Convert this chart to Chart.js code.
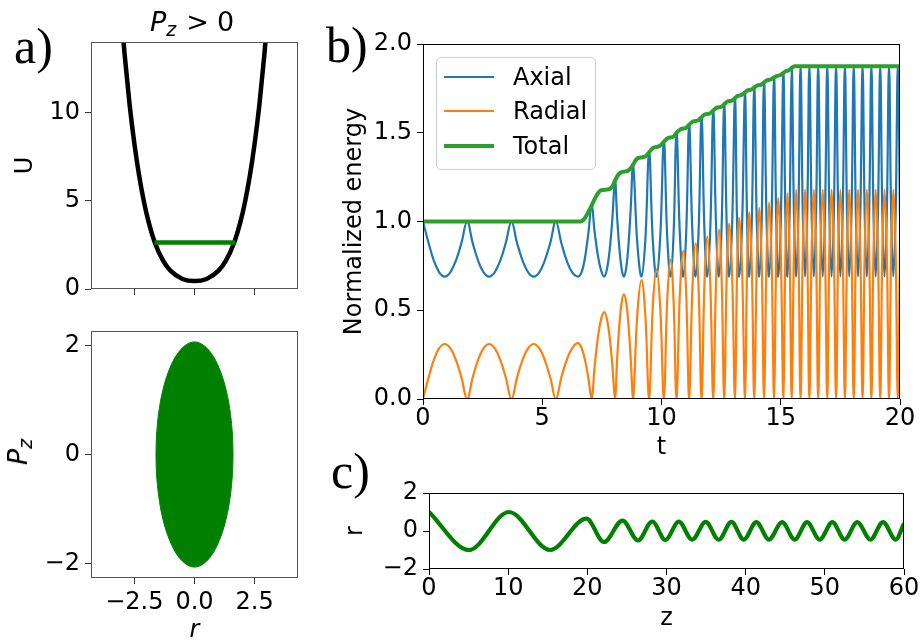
<!DOCTYPE html>
<html lang="en">
<head>
<meta charset="UTF-8">
<title>axial / radial energy</title>
<script src="https://cdn.jsdelivr.net/npm/chart.js@4.4.1/dist/chart.umd.min.js"></script>
<style>
  body { margin: 0; background: #fff; }
  #fig { position: relative; width: 924px; height: 643px; overflow: hidden; font-family: 'DejaVu Sans', sans-serif; color: #000; }
  #fig canvas { position: absolute; left: 0; top: 0; }
  .panel { position: absolute; font-family: 'Liberation Serif', serif; font-size: 50px; line-height: 50px; }
  .math { position: absolute; font-size: 27px; line-height: 27px; white-space: nowrap; }
  .math .sub { font-size: 19px; font-style: italic; position: relative; top: 5px; }
  .legend { position: absolute; left: 436px; top: 57px; width: 158px; height: 111px; border: 1px solid #ccc; border-radius: 5px; background: rgba(255,255,255,0.8); }
  .legend .row { position: absolute; left: 7px; width: 150px; height: 24px; font-size: 24px; line-height: 24px; }
  .legend .sw { position: absolute; left: 0; width: 50px; }
  .legend .tx { position: absolute; left: 69px; top: 0; }
</style>
</head>
<body>
<div id="fig">
  <canvas id="aTop" width="924" height="643"></canvas>
  <canvas id="aBot" width="924" height="643"></canvas>
  <canvas id="energy" width="924" height="643"></canvas>
  <canvas id="orbit" width="924" height="643"></canvas>

  <div class="panel" style="left:14px; top:21px">a)</div>
  <div class="panel" style="left:326px; top:20px">b)</div>
  <div class="panel" style="left:331px; top:446px">c)</div>

  <div class="math" style="left:150px; top:8px"><i>P</i><span class="sub">z</span><span style="margin-left:10px">&gt;</span><span style="margin-left:8px">0</span></div>
  <div class="math" style="left:19px; top:452px; transform: translate(-50%,-50%) rotate(-90deg)"><i>P</i><span class="sub">z</span></div>

  <div class="legend">
    <div class="row" style="top:7px"><span class="sw" style="top:11px; height:2px; background:#1f77b4"></span><span class="tx">Axial</span></div>
    <div class="row" style="top:41px"><span class="sw" style="top:11px; height:2px; background:#ff7f0e"></span><span class="tx">Radial</span></div>
    <div class="row" style="top:76px"><span class="sw" style="top:10px; height:4px; background:#2ca02c"></span><span class="tx">Total</span></div>
  </div>
</div>
<script>
  // a) top: potential U(r) and the energy level
  const uR = [-3.05, -2.9, -2.7, -2.5, -2.3, -2.1, -1.9, -1.65, -1.3, -1.0, -0.5, 0,
              0.5, 1.0, 1.3, 1.65, 1.9, 2.1, 2.3, 2.5, 2.7, 2.9, 3.05];
  const uV = [15.65, 13.25, 10.5, 8.26, 6.42, 4.94, 3.76, 2.64, 1.59, 1.04, 0.57, 0.45,
              0.57, 1.04, 1.59, 2.64, 3.76, 4.94, 6.42, 8.26, 10.5, 13.25, 15.65];
  const levelR = [-1.66, 1.7];
  const levelU = [2.64, 2.64];

  // a) bottom: allowed region in (r, Pz)
  const ellR = [-1.6, -1.59, -1.55, -1.45, -1.3, -1.1, -0.8, -0.4, 0, 0.4, 0.8, 1.1, 1.3, 1.45, 1.55, 1.59, 1.6];
  const ellUp = [0, 0.23, 0.51, 0.88, 1.21, 1.5, 1.79, 2.0, 2.07, 2.0, 1.79, 1.5, 1.21, 0.88, 0.51, 0.23, 0];
  const ellDown = [0, -0.23, -0.51, -0.88, -1.21, -1.5, -1.79, -2.0, -2.07, -2.0, -1.79, -1.5, -1.21, -0.88, -0.51, -0.23, 0];

  // b) normalized energies vs t
  const tVals = [
    0, 0.23, 0.455, 0.68, 0.91, 1.145, 1.38, 1.615, 1.85,
    2.08, 2.31, 2.54, 2.77, 3.005, 3.24, 3.475, 3.71,
    3.94, 4.175, 4.41, 4.64, 4.875, 5.105, 5.34, 5.57,
    5.8, 6.035, 6.27, 6.5, 6.64, 6.785, 6.93, 7.07,
    7.2, 7.335, 7.47, 7.6, 7.71, 7.825, 7.94, 8.05,
    8.14, 8.235, 8.33, 8.42, 8.52, 8.615, 8.71, 8.81,
    8.985, 9.16, 9.32, 9.48,
    9.635, 9.79, 9.945, 10.1,
    10.24, 10.38, 10.505, 10.63,
    10.77, 10.91, 11.035, 11.16,
    11.295, 11.43, 11.555, 11.68,
    11.8, 11.92, 12.045, 12.17,
    12.29, 12.41, 12.52, 12.63,
    12.735, 12.84, 12.96, 13.08,
    13.17, 13.26, 13.38, 13.5,
    13.59, 13.68, 13.785, 13.89,
    13.995, 14.1, 14.2, 14.3,
    14.405, 14.51, 14.615, 14.72,
    14.81, 14.9, 15.005, 15.11,
    15.195, 15.28, 15.37, 15.46,
    15.555, 15.65, 15.74, 15.83,
    15.925, 16.02, 16.11, 16.2,
    16.295, 16.39, 16.48, 16.57,
    16.665, 16.76, 16.855, 16.95,
    17.04, 17.13, 17.225, 17.32,
    17.41, 17.5, 17.595, 17.69,
    17.78, 17.87, 17.965, 18.06,
    18.15, 18.24, 18.335, 18.43,
    18.52, 18.61, 18.705, 18.8,
    18.89, 18.98, 19.075, 19.17,
    19.26, 19.35, 19.445, 19.54,
    19.63, 19.72, 19.815, 19.91,
    20.0
  ];
  const axial = [
    1.0, 0.881, 0.78, 0.714, 0.69, 0.714, 0.78, 0.881, 1.0,
    0.881, 0.78, 0.714, 0.69, 0.714, 0.78, 0.881, 1.0,
    0.881, 0.78, 0.714, 0.69, 0.714, 0.78, 0.881, 1.0,
    0.879, 0.776, 0.71, 0.69, 0.71, 0.791, 0.929, 1.09,
    0.937, 0.807, 0.723, 0.69, 0.73, 0.837, 1.017, 1.23,
    1.024, 0.846, 0.732, 0.69, 0.738, 0.869, 1.074, 1.32,
    0.879, 0.69, 0.891, 1.39,
    0.895, 0.69, 0.908, 1.45,
    0.913, 0.69, 0.923, 1.5,
    0.927, 0.69, 0.937, 1.545,
    0.94, 0.69, 0.947, 1.587,
    0.953, 0.69, 0.959, 1.625,
    0.964, 0.69, 0.97, 1.66,
    0.974, 0.69, 0.98, 1.695,
    0.983, 0.69, 0.989, 1.727,
    0.992, 0.69, 0.998, 1.756,
    1.0, 0.69, 1.006, 1.784,
    1.008, 0.69, 1.014, 1.811,
    1.015, 0.69, 1.021, 1.837,
    1.023, 0.69, 1.029, 1.866,
    1.036, 0.69, 1.037, 1.875,
    1.037, 0.69, 1.037, 1.875,
    1.037, 0.69, 1.037, 1.875,
    1.037, 0.69, 1.037, 1.875,
    1.037, 0.69, 1.037, 1.875,
    1.037, 0.69, 1.037, 1.875,
    1.037, 0.69, 1.037, 1.875,
    1.037, 0.69, 1.037, 1.875,
    1.037, 0.69, 1.037, 1.875,
    1.037, 0.69, 1.037, 1.875,
    1.037, 0.69, 1.037, 1.875,
    1.037, 0.69, 1.037, 1.875,
    1.037
  ];
  const radial = [
    0, 0.119, 0.22, 0.286, 0.31, 0.286, 0.22, 0.119, 0,
    0.119, 0.22, 0.286, 0.31, 0.286, 0.22, 0.119, 0,
    0.119, 0.22, 0.286, 0.31, 0.286, 0.22, 0.119, 0,
    0.121, 0.224, 0.29, 0.315, 0.29, 0.224, 0.121, 0,
    0.188, 0.348, 0.452, 0.49, 0.452, 0.348, 0.188, 0,
    0.226, 0.419, 0.545, 0.59, 0.545, 0.419, 0.226, 0,
    0.476, 0.67, 0.476, 0,
    0.52, 0.73, 0.52, 0,
    0.557, 0.785, 0.557, 0,
    0.593, 0.835, 0.593, 0,
    0.623, 0.877, 0.623, 0,
    0.65, 0.916, 0.65, 0,
    0.677, 0.954, 0.677, 0,
    0.701, 0.988, 0.701, 0,
    0.724, 1.02, 0.724, 0,
    0.746, 1.051, 0.746, 0,
    0.766, 1.079, 0.766, 0,
    0.787, 1.108, 0.787, 0,
    0.804, 1.132, 0.804, 0,
    0.824, 1.16, 0.824, 0,
    0.838, 1.18, 0.838, 0,
    0.838, 1.18, 0.838, 0,
    0.838, 1.18, 0.838, 0,
    0.838, 1.18, 0.838, 0,
    0.838, 1.18, 0.838, 0,
    0.838, 1.18, 0.838, 0,
    0.838, 1.18, 0.838, 0,
    0.838, 1.18, 0.838, 0,
    0.838, 1.18, 0.838, 0,
    0.838, 1.18, 0.838, 0,
    0.838, 1.18, 0.838, 0,
    0.838, 1.18, 0.838, 0,
    0.838
  ];
  const totalT = [0, 6.6, 6.75, 6.9, 7.07, 7.25, 7.45, 7.8, 7.95, 8.05, 8.18, 8.3, 8.58, 8.7, 8.81,
    8.92, 9.0, 9.3, 9.48, 9.65, 9.92, 10.1, 10.27, 10.5, 10.63, 10.8, 11.02, 11.16, 11.33, 11.53,
    11.68, 11.82, 12.02, 12.17, 12.32, 12.5, 12.63, 12.76, 12.93, 13.08, 13.19, 13.34, 13.5, 13.61,
    13.76, 13.89, 14.03, 14.18, 14.3, 14.44, 14.58, 14.72, 14.84, 14.97, 15.11, 15.22, 15.35, 15.46,
    15.58, 20];
  const totalV = [1.0, 1.0, 1.012, 1.045, 1.09, 1.14, 1.175, 1.182, 1.2, 1.23, 1.262, 1.277, 1.285, 1.3, 1.32,
    1.345, 1.357, 1.365, 1.39, 1.415, 1.425, 1.45, 1.47, 1.478, 1.5, 1.52, 1.527, 1.545, 1.564, 1.569,
    1.587, 1.604, 1.608, 1.625, 1.642, 1.646, 1.66, 1.676, 1.68, 1.695, 1.708, 1.712, 1.727, 1.739,
    1.743, 1.756, 1.767, 1.771, 1.784, 1.796, 1.8, 1.811, 1.82, 1.824, 1.837, 1.848, 1.852, 1.866,
    1.875, 1.875];

  // c) trajectory r(z), extrema
  const zVals = [0, 5.04, 10.1, 15.3, 19.9, 22.1, 24.45, 26.4, 28.2, 29.85, 31.55, 33.25, 34.95, 36.6,
    38.2, 39.75, 41.35, 42.95, 44.6, 46.2, 47.75, 49.35, 50.95, 52.5, 54.1, 55.75, 57.35, 58.95, 60];
  const rVals = [1.0, -1.0, 1.0, -1.0, 0.65, -0.58, 0.55, -0.5, 0.5, -0.47, 0.49, -0.46, 0.48, -0.46,
    0.48, -0.45, 0.47, -0.45, 0.47, -0.45, 0.47, -0.45, 0.47, -0.45, 0.47, -0.45, 0.47, -0.45, 0.4];

  // tick positions
  const rTicks = [-2.5, 0, 2.5];
  const uTicks = [0, 5, 10];
  const pzTicks = [-2, 0, 2];
  const eTicks = [0, 0.5, 1, 1.5, 2];
  const tTicks = [0, 5, 10, 15, 20];
  const cTicks = [-2, 0, 2];
  const zTicks = [0, 10, 20, 30, 40, 50, 60];

  const FS = 24;
  const GREEN = '#008000';
  Chart.defaults.font.family = "'DejaVu Sans', sans-serif";
  Chart.defaults.font.size = FS;
  Chart.defaults.color = '#000';

  const minus = v => (v < 0 ? '\u2212' : '') + Math.abs(v);
  const oneDec = v => (v < 0 ? '\u2212' : '') + Math.abs(v).toFixed(1);
  const xy = (xs, ys) => xs.map((x, i) => ({ x: x, y: ys[i] }));

  // box around the plot area, drawn over the lines like matplotlib spines
  const frame = {
    id: 'frame',
    afterDatasetsDraw(chart, args, opts) {
      const a = chart.chartArea, ctx = chart.ctx;
      ctx.save();
      ctx.strokeStyle = opts.color || '#000';
      ctx.lineWidth = 1;
      ctx.strokeRect(a.left + 0.5, a.top + 0.5, a.right - a.left - 1, a.bottom - a.top - 1);
      ctx.restore();
    }
  };

  function axis(o) {
    return {
      type: 'linear',
      position: o.pos,
      min: o.min,
      max: o.max,
      afterBuildTicks: s => { s.ticks = o.ticks.map(v => ({ value: v })); },
      afterFit: s => { if (o.pos === 'left') s.width = o.size; else s.height = o.size; },
      ticks: {
        callback: v => o.fmt(v),
        padding: o.pad !== undefined ? o.pad : (o.pos === 'left' ? 5 : 2),
        autoSkip: false,
        maxRotation: 0,
        font: { size: FS, lineHeight: 1 }
      },
      grid: { drawOnChartArea: false, tickLength: 6, tickColor: o.tickColor || '#000', tickWidth: 1 },
      border: { display: false },
      title: o.title
        ? { display: true, text: o.title, padding: 0, font: { size: FS, lineHeight: 1, style: o.italic ? 'italic' : 'normal' } }
        : { display: false }
    };
  }

  function line(xs, ys, color, width, extra) {
    return Object.assign({
      data: xy(xs, ys),
      borderColor: color,
      backgroundColor: color,
      borderWidth: width,
      pointRadius: 0,
      fill: false,
      borderJoinStyle: 'round',
      cubicInterpolationMode: 'monotone'
    }, extra || {});
  }

  function makeChart(id, pad, datasets, x, y, frameColor) {
    return new Chart(document.getElementById(id), {
      type: 'line',
      data: { datasets: datasets },
      options: {
        responsive: false,
        animation: false,
        devicePixelRatio: 1,
        events: [],
        layout: { padding: pad },
        plugins: { legend: { display: false }, tooltip: { enabled: false }, frame: { color: frameColor } },
        scales: { x: x, y: y }
      },
      plugins: [frame]
    });
  }

  // a) top
  makeChart('aTop', { left: 13.5, top: 42, right: 626, bottom: 344 }, [
      line(levelR, levelU, GREEN, 4.5, { order: 0, cubicInterpolationMode: 'default' }),
      line(uR, uV, '#000', 4.5, { order: 1 })
    ],
    axis({ pos: 'bottom', min: -4.3, max: 4.3, ticks: rTicks, fmt: () => '', size: 10, tickColor: '#333' }),
    axis({ pos: 'left', min: 0, max: 14, ticks: uTicks, fmt: minus, size: 77.5, title: 'U', tickColor: '#333' }),
    '#555');

  // a) bottom
  makeChart('aBot', { left: 20, top: 331, right: 626, bottom: 0 }, [
      line(ellR, ellUp, GREEN, 1, { fill: '+1' }),
      line(ellR, ellDown, GREEN, 1)
    ],
    axis({ pos: 'bottom', min: -4.3, max: 4.3, ticks: rTicks, fmt: oneDec, size: 65, pad: 7, title: 'r', italic: true, tickColor: '#333' }),
    axis({ pos: 'left', min: -2.27, max: 2.27, ticks: pzTicks, fmt: minus, size: 71, tickColor: '#333' }),
    '#555');

  // b) energies
  makeChart('energy', { left: 343, top: 44, right: 24, bottom: 183 }, [
      line(tVals, axial, '#1f77b4', 2.2, { order: 2, cubicInterpolationMode: 'default', tension: 0.4 }),
      line(tVals, radial, '#ff7f0e', 2.2, { order: 1, cubicInterpolationMode: 'default', tension: 0.4 }),
      line(totalT, totalV, '#2ca02c', 4, { order: 0 })
    ],
    axis({ pos: 'bottom', min: 0, max: 20, ticks: tTicks, fmt: minus, size: 61, title: 't' }),
    axis({ pos: 'left', min: 0, max: 2, ticks: eTicks, fmt: oneDec, size: 80, title: 'Normalized energy' }),
    '#000');

  // c) r(z)
  makeChart('orbit', { left: 344, top: 493, right: 20, bottom: 12 }, [
      line(zVals, rVals, GREEN, 4.2)
    ],
    axis({ pos: 'bottom', min: 0, max: 60, ticks: zTicks, fmt: minus, size: 62, title: 'z' }),
    axis({ pos: 'left', min: -2, max: 2, ticks: cTicks, fmt: minus, size: 85, title: 'r' }),
    '#000');
</script>
</body>
</html>
